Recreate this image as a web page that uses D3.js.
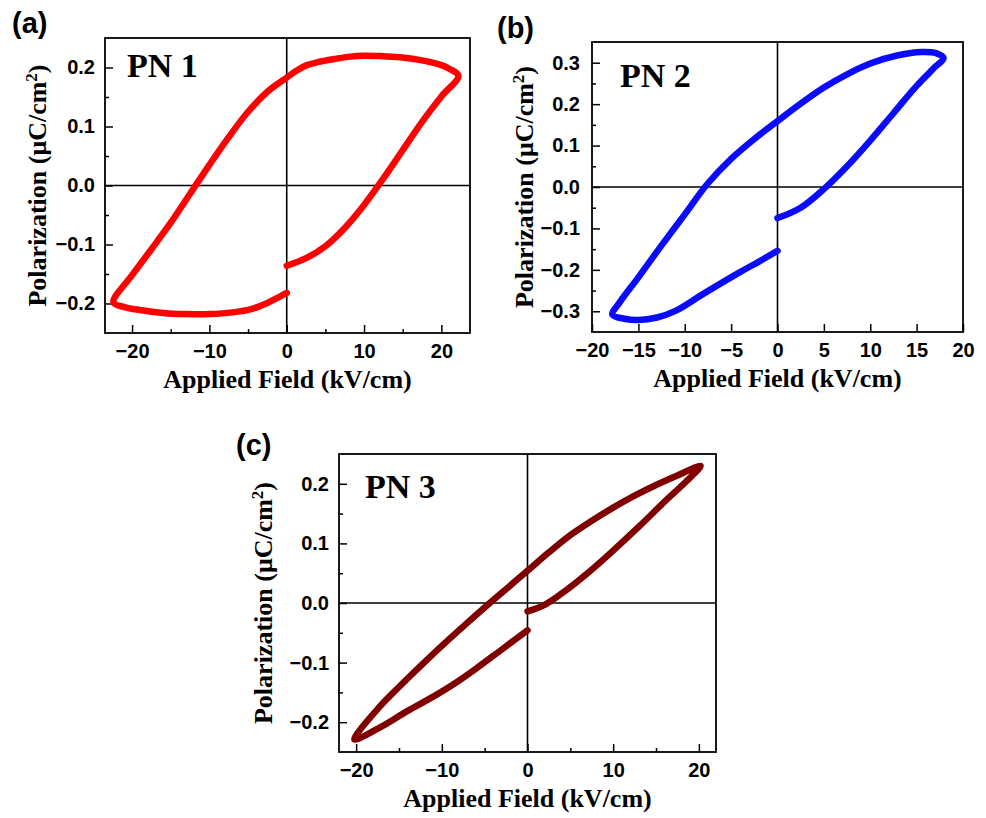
<!DOCTYPE html>
<html>
<head>
<meta charset="utf-8">
<script src="https://cdn.jsdelivr.net/npm/d3@7/dist/d3.min.js"></script>
<style>
  body { margin: 0; background: #fff; }
  .tick text { font-family: "Liberation Sans", Arial, sans-serif; font-weight: bold; font-size: 20px; fill: #000; }
  .tick line { stroke: #000; stroke-width: 1.5px; }
</style>
</head>
<body>
<div id="Graph"></div>
<script>
// PN 1 loop (field kV/cm, polarization uC/cm2), in drawing order
var fieldA = [0, 2.5, 5, 7.5, 10, 12.5, 15, 17.5, 20, 22.2,
    21, 20, 17.5, 15, 12.5, 10, 8, 6, 4, 2.6, 1.3, 0,
    -2.5, -5, -7.5, -10, -12.5, -15, -17.5, -20, -22.4,
    -21, -19, -16, -13, -10, -7, -4.5, -2.5, -1, 0];
var polA = [-0.136, -0.123, -0.103, -0.072, -0.033, 0.012, 0.060, 0.108, 0.151, 0.186,
    0.198, 0.204, 0.212, 0.217, 0.219, 0.220, 0.218, 0.214, 0.209, 0.204, 0.195, 0.183,
    0.159, 0.125, 0.082, 0.035, -0.014, -0.063, -0.108, -0.152, -0.198,
    -0.206, -0.211, -0.216, -0.218, -0.218, -0.215, -0.209, -0.199, -0.189, -0.182];

// PN 2 loop
var fieldB = [0, 2.5, 5, 7.5, 10, 12.5, 15, 17, 17.9,
    17.1, 15.5, 13, 10, 7.5, 5, 2.5, 0,
    -2.5, -5, -7.5, -10, -12.5, -15, -17, -17.8,
    -16.5, -15, -13, -11, -8, -4, -2, 0];
var polB = [-0.075, -0.05, -0.005, 0.05, 0.112, 0.178, 0.244, 0.29, 0.311,
    0.323, 0.326, 0.318, 0.298, 0.272, 0.240, 0.201, 0.159,
    0.116, 0.068, 0.009, -0.066, -0.141, -0.218, -0.278, -0.308,
    -0.318, -0.321, -0.315, -0.299, -0.258, -0.205, -0.18, -0.154];

// PN 3 loop
var fieldC = [0, 2, 4, 7, 10, 13, 16, 18.6, 20.2,
    17.5, 15, 12.5, 10, 7.5, 5, 2.5, 0,
    -2.2, -4.4, -7, -10, -12.5, -15, -17.5, -20.2,
    -17, -14, -11, -8.5, -6, -3, 0];
var polC = [-0.014, -0.003, 0.016, 0.05, 0.088, 0.128, 0.17, 0.205, 0.23,
    0.214, 0.198, 0.18, 0.16, 0.138, 0.114, 0.085, 0.054,
    0.027, 0.0, -0.033, -0.072, -0.106, -0.141, -0.178, -0.229,
    -0.207, -0.181, -0.157, -0.135, -0.11, -0.078, -0.046];

// tick values
var xMajorA = [-20, -10, 0, 10, 20], xMinorA = [-15, -5, 5, 15];
var yMajorA = [-0.2, -0.1, 0, 0.1, 0.2], yMinorA = [-0.15, -0.05, 0.05, 0.15];
var xMajorB = [-20, -15, -10, -5, 0, 5, 10, 15, 20], xMinorB = [];
var yMajorB = [-0.3, -0.2, -0.1, 0, 0.1, 0.2, 0.3], yMinorB = [-0.25, -0.15, -0.05, 0.05, 0.15, 0.25];
var xMajorC = [-20, -10, 0, 10, 20], xMinorC = [-15, -5, 5, 15];
var yMajorC = [-0.2, -0.1, 0, 0.1, 0.2], yMinorC = [-0.15, -0.05, 0.05, 0.15];

var svg = d3.select("#Graph").append("svg")
    .attr("width", 986)
    .attr("height", 818)
    .style("display", "block");

svg.append("rect").attr("width", 986).attr("height", 818).attr("fill", "#fff");

function drawPanel(p) {
    var w = p.right - p.left, h = p.bottom - p.top;
    var x = d3.scaleLinear().domain(p.xDomain).range([0, w]);
    var y = d3.scaleLinear().domain(p.yDomain).range([h, 0]);

    var g = svg.append("g").attr("transform", "translate(" + p.left + "," + p.top + ")");

    //zero lines
    g.append("line").attr("x1", x(0)).attr("x2", x(0)).attr("y1", 0).attr("y2", h)
        .attr("stroke", "#000").attr("stroke-width", 1.6);
    g.append("line").attr("x1", 0).attr("x2", w).attr("y1", y(0)).attr("y2", y(0))
        .attr("stroke", "#000").attr("stroke-width", 1.6);

    //x axis, ticks pointing in
    g.append("g").attr("transform", "translate(0," + h + ")")
        .call(d3.axisBottom(x).tickValues(p.xMajor).tickSize(-8).tickPadding(11).tickFormat(d3.format("d")))
        .call(function (s) { s.select(".domain").remove(); });
    g.append("g").attr("transform", "translate(0," + h + ")")
        .call(d3.axisBottom(x).tickValues(p.xMinor).tickSize(-4).tickFormat(""))
        .call(function (s) { s.select(".domain").remove(); });

    //y axis
    g.append("g")
        .call(d3.axisLeft(y).tickValues(p.yMajor).tickSize(-8).tickPadding(p.yPad).tickFormat(d3.format(".1f")))
        .call(function (s) { s.select(".domain").remove(); });
    g.append("g")
        .call(d3.axisLeft(y).tickValues(p.yMinor).tickSize(-4).tickFormat(""))
        .call(function (s) { s.select(".domain").remove(); });

    //loop
    var pts = p.field.map(function (f, i) { return [f, p.pol[i]]; });
    g.append("path")
        .datum(pts)
        .attr("fill", "none")
        .attr("stroke", p.color)
        .attr("stroke-width", 6.5)
        .attr("stroke-linecap", "round")
        .attr("stroke-linejoin", "round")
        .attr("d", d3.line()
            .x(function (d) { return x(d[0]); })
            .y(function (d) { return y(d[1]); })
            .curve(d3.curveCatmullRom.alpha(0.5)));

    //frame
    g.append("rect").attr("width", w).attr("height", h)
        .attr("fill", "none").attr("stroke", "#000").attr("stroke-width", 1.8);

    //sample name
    g.append("text")
        .attr("x", p.nameX - p.left).attr("y", p.nameY - p.top)
        .style("font-family", "'Liberation Serif', 'Times New Roman', serif")
        .style("font-weight", "bold").style("font-size", "34px")
        .text(p.name);

    //axis titles
    g.append("text")
        .attr("x", w / 2).attr("y", p.xTitleY - p.top)
        .attr("text-anchor", "middle")
        .style("font-family", "'Liberation Serif', 'Times New Roman', serif")
        .style("font-weight", "bold").style("font-size", "26px")
        .text("Applied Field (kV/cm)");

    var yt = g.append("text")
        .attr("transform", "translate(" + (p.yTitleX - p.left) + "," + (h / 2) + ") rotate(-90)")
        .attr("text-anchor", "middle")
        .style("font-family", "'Liberation Serif', 'Times New Roman', serif")
        .style("font-weight", "bold").style("font-size", "26px");
    yt.append("tspan").text("Polarization (\u03bcC/cm");
    yt.append("tspan").attr("baseline-shift", "super").style("font-size", "17px").text("2");
    yt.append("tspan").text(")");

    //panel letter
    svg.append("text")
        .attr("x", p.tagX).attr("y", p.tagY)
        .style("font-family", "'Liberation Sans', Arial, sans-serif")
        .style("font-weight", "bold").style("font-size", "29px")
        .text(p.tag);
}

drawPanel({tag: "(a)", tagX: 12, tagY: 33, name: "PN 1", nameX: 127, nameY: 77,
    left: 105, right: 470, top: 38, bottom: 333, xDomain: [-23.5, 23.7], yDomain: [-0.25, 0.25],
    xMajor: xMajorA, xMinor: xMinorA, yMajor: yMajorA, yMinor: yMinorA, yPad: 10,
    field: fieldA, pol: polA, color: "#ff0000", xTitleY: 388, yTitleX: 46});

drawPanel({tag: "(b)", tagX: 497, tagY: 38, name: "PN 2", nameX: 620, nameY: 87,
    left: 592, right: 963, top: 42, bottom: 332, xDomain: [-20, 20], yDomain: [-0.35, 0.35],
    xMajor: xMajorB, xMinor: xMinorB, yMajor: yMajorB, yMinor: yMinorB, yPad: 12,
    field: fieldB, pol: polB, color: "#0a0aff", xTitleY: 387, yTitleX: 533});

drawPanel({tag: "(c)", tagX: 236, tagY: 455, name: "PN 3", nameX: 365, nameY: 498,
    left: 339, right: 716, top: 454, bottom: 752, xDomain: [-22, 22], yDomain: [-0.25, 0.25],
    xMajor: xMajorC, xMinor: xMinorC, yMajor: yMajorC, yMinor: yMinorC, yPad: 10,
    field: fieldC, pol: polC, color: "#800000", xTitleY: 807, yTitleX: 272});
</script>
</body>
</html>
